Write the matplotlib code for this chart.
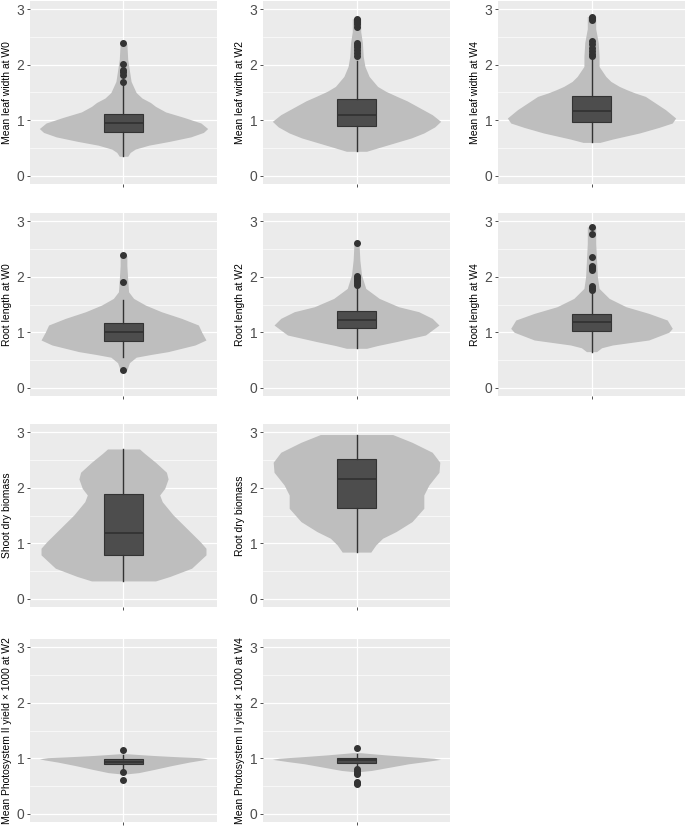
import numpy as np
import matplotlib.pyplot as plt

plt.rcParams['font.family'] = ['Liberation Sans', 'DejaVu Sans']

# axis titles
titles = [
    "Mean leaf width at W0", "Mean leaf width at W2", "Mean leaf width at W4",
    "Root length at W0", "Root length at W2", "Root length at W4",
    "Shoot dry biomass", "Root dry biomass",
    "Mean Photosystem II yield \u00d7 1000 at W2",
    "Mean Photosystem II yield \u00d7 1000 at W4",
]

# violin outlines: value levels and relative half-widths
lw0_y = [0.35, 0.42, 0.48, 0.55, 0.62, 0.70, 0.78, 0.85, 0.95, 1.05, 1.15, 1.25, 1.32, 1.40, 1.50, 1.70, 1.90, 2.10, 2.38]
lw0_w = [0.05, 0.08, 0.14, 0.30, 0.55, 0.80, 0.95, 1.00, 0.92, 0.72, 0.50, 0.38, 0.32, 0.22, 0.15, 0.09, 0.07, 0.05, 0.04]
lw2_y = [0.44, 0.50, 0.59, 0.68, 0.77, 0.88, 0.98, 1.10, 1.25, 1.35, 1.43, 1.52, 1.61, 1.79, 1.97, 2.15, 2.40, 2.60, 2.83]
lw2_w = [0.12, 0.25, 0.45, 0.65, 0.80, 0.93, 1.00, 0.90, 0.72, 0.60, 0.48, 0.35, 0.25, 0.15, 0.10, 0.08, 0.07, 0.05, 0.05]
lw4_y = [0.60, 0.66, 0.77, 0.87, 0.95, 1.04, 1.19, 1.31, 1.43, 1.49, 1.55, 1.61, 1.70, 1.79, 1.97, 2.15, 2.40, 2.65, 2.87]
lw4_w = [0.10, 0.25, 0.57, 0.80, 0.96, 1.00, 0.88, 0.76, 0.64, 0.52, 0.42, 0.33, 0.23, 0.17, 0.09, 0.09, 0.08, 0.05, 0.05]
rl0_y = [0.32, 0.45, 0.55, 0.60, 0.65, 0.77, 0.86, 1.00, 1.13, 1.25, 1.37, 1.49, 1.61, 1.73, 1.95, 2.20, 2.38]
rl0_w = [0.04, 0.07, 0.15, 0.33, 0.53, 0.85, 0.98, 0.93, 0.89, 0.69, 0.45, 0.26, 0.12, 0.06, 0.05, 0.04, 0.04]
rl2_y = [0.71, 0.76, 0.83, 0.95, 1.13, 1.25, 1.37, 1.46, 1.61, 1.79, 2.03, 2.30, 2.60]
rl2_w = [0.12, 0.25, 0.47, 0.82, 0.98, 0.90, 0.74, 0.50, 0.27, 0.11, 0.06, 0.04, 0.03]
rl4_y = [0.65, 0.72, 0.77, 0.86, 1.00, 1.07, 1.22, 1.34, 1.46, 1.61, 1.79, 2.00, 2.30, 2.60, 2.90]
rl4_w = [0.06, 0.12, 0.25, 0.68, 0.92, 0.96, 0.90, 0.68, 0.41, 0.21, 0.09, 0.07, 0.06, 0.05, 0.05]
sdb_y = [0.32, 0.40, 0.55, 0.79, 0.91, 1.03, 1.27, 1.51, 1.75, 1.87, 1.99, 2.16, 2.28, 2.46, 2.62, 2.70]
sdb_w = [0.38, 0.55, 0.81, 0.98, 0.98, 0.91, 0.75, 0.59, 0.46, 0.43, 0.49, 0.53, 0.51, 0.38, 0.25, 0.19]
rdb_y = [0.84, 0.97, 1.09, 1.21, 1.39, 1.63, 1.87, 2.05, 2.28, 2.46, 2.64, 2.82, 2.96]
rdb_w = [0.17, 0.23, 0.31, 0.47, 0.66, 0.80, 0.80, 0.86, 0.98, 0.99, 0.90, 0.66, 0.43]
ps2_y = [0.72, 0.74, 0.80, 0.87, 0.93, 0.97, 0.99, 1.01, 1.03, 1.05, 1.07, 1.08]
ps2_w = [0.05, 0.18, 0.37, 0.58, 0.78, 0.94, 1.00, 0.90, 0.60, 0.35, 0.15, 0.05]
ps4_y = [0.76, 0.78, 0.84, 0.90, 0.94, 0.98, 1.00, 1.03, 1.06, 1.09, 1.10]
ps4_w = [0.05, 0.18, 0.40, 0.62, 0.82, 1.00, 0.92, 0.62, 0.35, 0.12, 0.05]

# box stats: whisker low, q1, median, q3, whisker high
lw0_box = [0.35, 0.78, 0.95, 1.12, 1.64]
lw2_box = [0.45, 0.90, 1.10, 1.38, 2.06]
lw4_box = [0.60, 0.97, 1.17, 1.44, 2.09]
rl0_box = [0.56, 0.85, 1.00, 1.17, 1.58]
rl2_box = [0.71, 1.07, 1.22, 1.39, 1.82]
rl4_box = [0.65, 1.03, 1.18, 1.32, 1.74]
sdb_box = [0.32, 0.79, 1.18, 1.88, 2.70]
rdb_box = [0.84, 1.64, 2.15, 2.52, 2.96]
ps2_box = [0.81, 0.90, 0.94, 0.98, 1.06]
ps4_box = [0.83, 0.92, 0.96, 1.00, 1.07]

# outliers
lw0_out = [1.69, 1.81, 1.87, 1.91, 2.01, 2.39]
lw2_out = [2.16, 2.22, 2.27, 2.32, 2.36, 2.39, 2.69, 2.73, 2.77, 2.80, 2.83]
lw4_out = [2.15, 2.20, 2.25, 2.30, 2.37, 2.42, 2.80, 2.85, 2.87]
rl0_out = [0.32, 1.91, 2.39]
rl2_out = [1.85, 1.88, 1.92, 1.95, 1.98, 2.01, 2.61]
rl4_out = [1.77, 1.80, 1.83, 2.12, 2.15, 2.18, 2.20, 2.35, 2.78, 2.90]
sdb_out = []
rdb_out = []
ps2_out = [0.60, 0.75, 1.15]
ps4_out = [0.53, 0.55, 0.58, 0.72, 0.74, 0.77, 0.80, 1.18]

panels = [
    (lw0_y, lw0_w, lw0_box, lw0_out), (lw2_y, lw2_w, lw2_box, lw2_out),
    (lw4_y, lw4_w, lw4_box, lw4_out), (rl0_y, rl0_w, rl0_box, rl0_out),
    (rl2_y, rl2_w, rl2_box, rl2_out), (rl4_y, rl4_w, rl4_box, rl4_out),
    (sdb_y, sdb_w, sdb_box, sdb_out), (rdb_y, rdb_w, rdb_box, rdb_out),
    (ps2_y, ps2_w, ps2_box, ps2_out), (ps4_y, ps4_w, ps4_box, ps4_out),
]
grid_pos = [(0, 0), (0, 1), (0, 2), (1, 0), (1, 1), (1, 2), (2, 0), (2, 1), (3, 0), (3, 1)]

W, H = 685, 834
col_left = [30, 263, 498]
row_top = [1, 213, 424, 639]
pw, ph = 187, 183

fig = plt.figure(figsize=(W / 100, H / 100), dpi=100)

for (y, w, box, out), (r, c), title in zip(panels, grid_pos, titles):
    ax = fig.add_axes([col_left[c] / W, 1 - (row_top[r] + ph) / H, pw / W, ph / H])
    ax.set_facecolor('#EBEBEB')
    for s in ax.spines.values():
        s.set_visible(False)
    ax.set_ylim(-0.15, 3.15)
    ax.set_yticks([0, 1, 2, 3])
    ax.set_yticks([0.5, 1.5, 2.5], minor=True)
    ax.grid(True, which='major', color='white', linewidth=0.9)
    ax.grid(True, which='minor', axis='y', color='white', linewidth=0.45)
    ax.set_axisbelow(True)
    ax.tick_params(which='major', length=2.5, width=0.6, color='#333333',
                   labelsize=10, labelcolor='#4D4D4D', pad=1.5)
    ax.tick_params(which='minor', length=0)

    # violin
    y = np.array(y)
    hw = np.array(w) * 0.54
    ax.fill_betweenx(y, 1 - hw, 1 + hw, color='#BEBEBE', linewidth=0, zorder=2)

    # box
    st = dict(whislo=box[0], q1=box[1], med=box[2], q3=box[3], whishi=box[4], fliers=out)
    ax.bxp([st], positions=[1], widths=0.25, patch_artist=True, showcaps=False,
           boxprops=dict(facecolor='#4D4D4D', edgecolor='#333333', linewidth=0.8),
           medianprops=dict(color='#333333', linewidth=1.3),
           whiskerprops=dict(color='#333333', linewidth=1.0),
           flierprops=dict(marker='o', markerfacecolor='#333333',
                           markeredgecolor='#333333', markersize=4),
           zorder=3)
    ax.set_xlim(0.4, 1.6)
    ax.set_xticks([1])
    ax.set_xticklabels([''])
    ax.set_ylabel(title, fontsize=7.5, labelpad=3)

fig.savefig('out.png', dpi=100)
